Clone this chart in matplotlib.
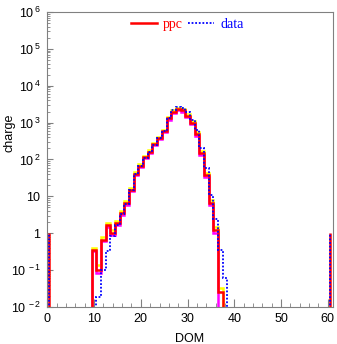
import numpy as np
import matplotlib
matplotlib.use("Agg")
import matplotlib.pyplot as plt
from matplotlib.ticker import FixedLocator, FixedFormatter, MultipleLocator, LogLocator, NullFormatter

plt.rcParams['font.family'] = ['Liberation Sans', 'DejaVu Sans']
plt.rcParams['mathtext.fontset'] = 'custom'
plt.rcParams['mathtext.rm'] = 'Liberation Sans'

# simulated charge per DOM (ppc), bins centred on DOM 10..37
ppc_dom = np.arange(10, 38)
ppc = [0.35, 0.10, 0.66, 1.67, 1.03, 1.86, 3.5, 6.5, 14.9, 41, 68, 116, 163, 257,
       373, 580, 1300, 2000, 2300, 2150, 1550, 1000, 480, 153, 38, 6.8, 1.22, 0.025]
ppc_hi = [0.41, 0.14, 0.78, 1.95, 1.25, 2.15, 4.0, 7.4, 16.8, 46, 76, 128, 180, 283,
          410, 640, 1420, 2250, 2550, 2400, 1720, 1110, 540, 172, 44, 8.0, 1.5, 0.033]
# lower curve ends one bin earlier (DOM 10..36)
ppc_lo = [0.32, 0.082, 0.6, 1.5, 0.88, 1.7, 3.2, 6.0, 13.8, 38, 63, 108, 152, 240,
          350, 540, 1200, 1850, 2150, 2000, 1420, 900, 430, 135, 33, 5.8, 1.0]

# measured charge, DOM 11..38
data_dom = np.arange(11, 39)
data = [0.019, 0.10, 0.32, 0.84, 1.67, 3.4, 6.3, 14.5, 40, 66, 112, 160, 252, 380,
        600, 1300, 2200, 2600, 2500, 2000, 1190, 620, 200, 60, 10.8, 2.4, 0.35, 0.06]

# single entries at the ends of the DOM range
edge_dom = [0.4, 60.5]
edge_val = 1.0

yticks = [1e-2, 1e-1, 1, 10, 1e2, 1e3, 1e4, 1e5, 1e6]
ylabels = [r'$\mathregular{10^{\,-2}}$', r'$\mathregular{10^{\,-1}}$',
           r'$\mathregular{1\;\;\,}$', r'$\mathregular{10\;\;\,}$',
           r'$\mathregular{10^{\,2}}$', r'$\mathregular{10^{\,3}}$',
           r'$\mathregular{10^{\,4}}$', r'$\mathregular{10^{\,5}}$',
           r'$\mathregular{10^{\,6}}$']


def edges(centres):
    return np.append(centres - 0.5, centres[-1] + 0.5)


fig = plt.figure(figsize=(3.37, 3.44), dpi=100)
ax = fig.add_axes([0.139, 0.1076, 0.849, 0.8576])
ax.set_yscale('log')

base = 1e-4
ax.stairs(ppc_hi, edges(ppc_dom), baseline=base, color='#ffff00', lw=1.8)
ax.stairs(ppc_lo, edges(ppc_dom[:len(ppc_lo)]), baseline=base, color='#ff00ff', lw=1.8)
l1 = ax.stairs(ppc, edges(ppc_dom), baseline=base, color='#ff0000', lw=1.8)
l2 = ax.stairs(data, edges(data_dom), baseline=base, color='#0000ff', lw=1.3,
               linestyle=(0, (1, 1)))
ax.vlines(edge_dom, base, edge_val, color='#ff0000', lw=1.8)
ax.vlines(edge_dom, base, edge_val, color='#0000ff', lw=1.3, linestyle=(0, (1, 1)))

ax.set_xlim(-0.1, 61.1)
ax.set_ylim(1e-2, 1e6)

ax.xaxis.set_major_locator(MultipleLocator(10))
ax.xaxis.set_minor_locator(MultipleLocator(2))
ax.yaxis.set_major_locator(FixedLocator(yticks))
ax.yaxis.set_major_formatter(FixedFormatter(ylabels))
ax.yaxis.set_minor_locator(LogLocator(base=10, subs=np.arange(2, 10), numticks=20))
ax.yaxis.set_minor_formatter(NullFormatter())

grey = '#808080'
for s in ax.spines.values():
    s.set_color(grey)
ax.tick_params(which='both', direction='in', color=grey, top=False, right=False,
               labelsize=9, labelcolor='black')
ax.tick_params(axis='x', which='major', length=6, pad=4)
ax.tick_params(axis='x', which='minor', length=3)
ax.tick_params(axis='y', which='major', length=4, pad=4)
ax.tick_params(axis='y', which='minor', length=2)

ax.set_xlabel('DOM', fontsize=9, labelpad=6)
ax.set_ylabel('charge', fontsize=9)
ax.yaxis.set_label_coords(-0.11, 0.59)

leg = ax.legend([l1, l2], ['ppc', 'data'], loc='upper center', bbox_to_anchor=(0.49, 1.0),
                ncol=2, frameon=False, handlelength=1.9, handletextpad=0.4,
                columnspacing=0.4, prop={'family': 'Liberation Serif', 'size': 10},
                borderaxespad=0.05)
leg.get_texts()[0].set_color('#ff0000')
leg.get_texts()[1].set_color('#0000ff')

fig.savefig('out.png', dpi=100)
